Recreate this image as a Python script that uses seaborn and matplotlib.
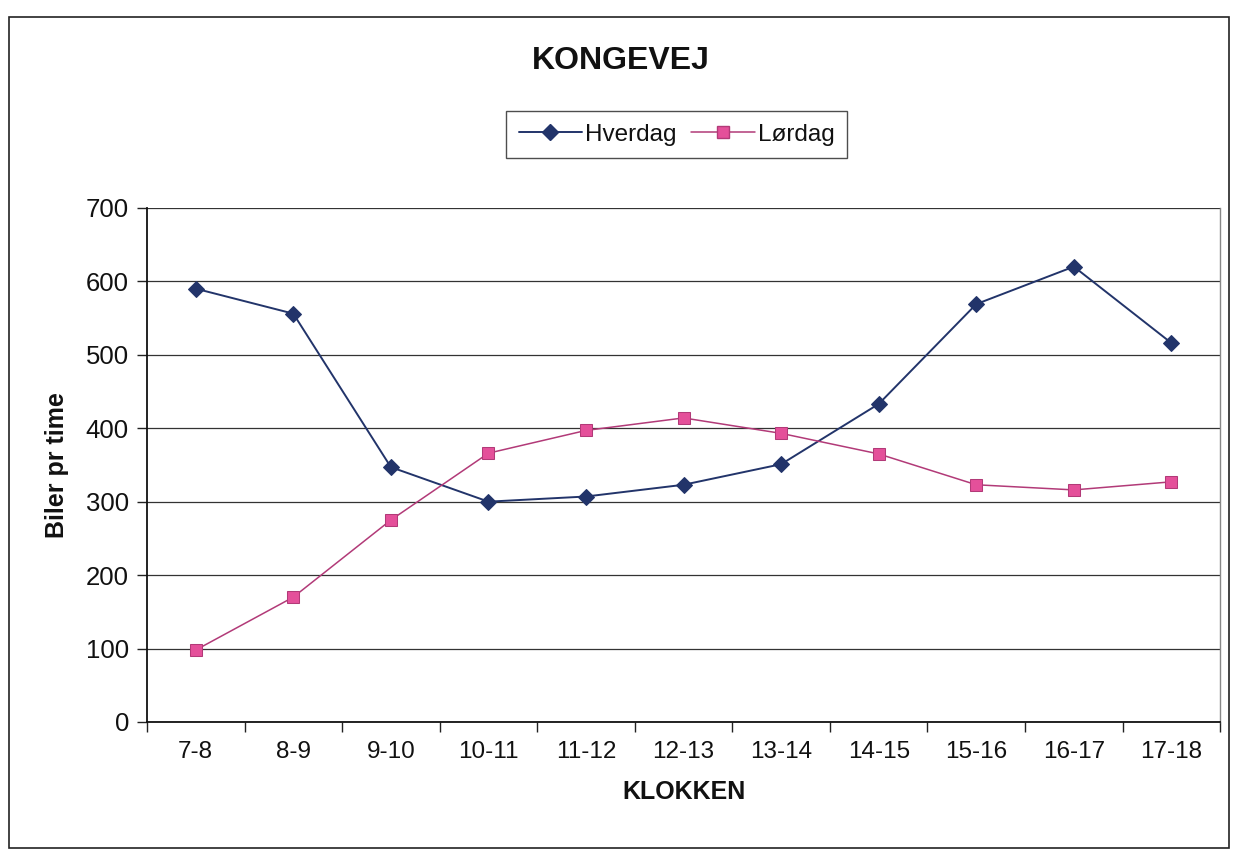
import matplotlib
matplotlib.use("Agg")
import matplotlib.pyplot as plt
import seaborn as sns
import pandas as pd
from matplotlib.patches import Rectangle
from matplotlib.lines import Line2D

# ── data ──
klokken = ['7-8', '8-9', '9-10', '10-11', '11-12', '12-13',
           '13-14', '14-15', '15-16', '16-17', '17-18']
hverdag = [590, 556, 347, 300, 307, 323, 351, 433, 569, 620, 516]
loerdag = [98, 170, 275, 366, 397, 414, 393, 365, 323, 316, 327]

df = pd.DataFrame({
    'Klokken': klokken * 2,
    'Biler': hverdag + loerdag,
    'Serie': ['Hverdag'] * len(klokken) + ['Lørdag'] * len(klokken),
})
df['pos'] = df['Klokken'].map({k: i for i, k in enumerate(klokken)})

sns.set_style('white')
plt.rcParams['font.family'] = ['Liberation Sans', 'DejaVu Sans']
plt.rcParams['text.color'] = '#111111'
plt.rcParams['axes.labelcolor'] = '#111111'
plt.rcParams['xtick.color'] = '#111111'
plt.rcParams['ytick.color'] = '#111111'

navy = '#22346A'
pink_line = '#B23A78'
pink_face = '#E4509A'

fig = plt.figure(figsize=(12.35, 8.52), dpi=100)
ax = fig.add_axes([0.119, 0.1526, 0.869, 0.6034])

sns.lineplot(data=df, x='pos', y='Biler', hue='Serie', style='Serie',
             palette={'Hverdag': navy, 'Lørdag': pink_line},
             markers={'Hverdag': 'D', 'Lørdag': 's'}, dashes=False,
             markersize=9, linewidth=1.4, ax=ax, legend=False)

# marker colours like the Excel original
lines = ax.get_lines()
lines[0].set_markerfacecolor(navy)
lines[0].set_markeredgecolor(navy)
lines[0].set_markersize(8)
lines[1].set_markerfacecolor(pink_face)
lines[1].set_markeredgecolor(pink_line)
lines[1].set_linewidth(1.1)

ax.set_xlim(-0.5, len(klokken) - 0.5)
ax.set_ylim(0, 700)
ax.set_yticks(range(0, 701, 100))
ax.yaxis.grid(True, color='#333333', linewidth=0.9)
ax.set_xticks(range(len(klokken)))
ax.set_xticklabels(klokken)
ax.set_xticks([i - 0.5 for i in range(len(klokken) + 1)], minor=True)
ax.tick_params(axis='x', which='major', length=0, labelsize=17.5, pad=14)
ax.tick_params(axis='x', which='minor', length=7, width=1, direction='out',
               bottom=True, color='#222222')
ax.tick_params(axis='y', length=7, width=1, direction='out', left=True,
               labelsize=18.5, pad=6, color='#222222')

for side in ['left', 'bottom']:
    ax.spines[side].set_color('#111111')
    ax.spines[side].set_linewidth(1.3)
ax.spines['right'].set_color('#888888')
ax.spines['right'].set_linewidth(1.0)
ax.spines['top'].set_visible(False)

ax.set_xlabel('KLOKKEN', fontsize=18, fontweight='bold', labelpad=12)
ax.set_ylabel('Biler pr time', fontsize=18, fontweight='bold', labelpad=12)

fig.text(0.503, 0.928, 'KONGEVEJ', fontsize=23, fontweight='bold',
         ha='center', va='center')

handles = [
    Line2D([], [], color=navy, marker='D', markersize=8, linewidth=1.4,
           markerfacecolor=navy, markeredgecolor=navy, label='Hverdag'),
    Line2D([], [], color=pink_line, marker='s', markersize=9, linewidth=1.1,
           markerfacecolor=pink_face, markeredgecolor=pink_line, label='Lørdag'),
]
leg = fig.legend(handles=handles, loc='center', bbox_to_anchor=(0.548, 0.842),
                 ncol=2, fontsize=17.5, frameon=True, fancybox=False,
                 edgecolor='#222222', handlelength=2.6, handletextpad=0.15,
                 columnspacing=0.6, borderpad=0.5)
leg.get_frame().set_linewidth(1.0)

# outer chart border
fig.patches.append(Rectangle((0.007, 0.005), 0.988, 0.975, transform=fig.transFigure,
                             fill=False, edgecolor='#222222', linewidth=1.2))

fig.savefig('out.png', dpi=100)
